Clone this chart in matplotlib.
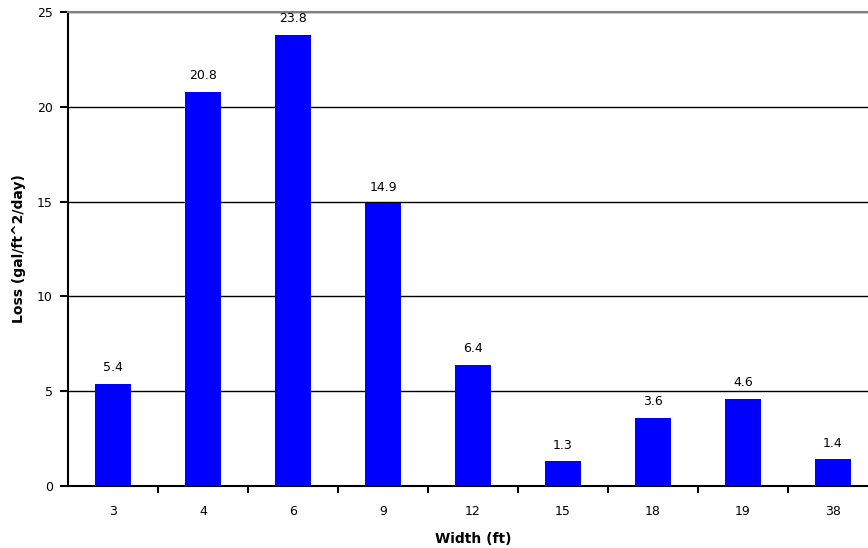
import matplotlib.pyplot as plt
from matplotlib.ticker import FixedLocator

plt.rcParams["font.family"] = ["DejaVu Sans"]

# Loss by channel width
widths = ["3", "4", "6", "9", "12", "15", "18", "19", "38"]
losses = [5.4, 20.8, 23.8, 14.9, 6.4, 1.3, 3.6, 4.6, 1.4]
y_ticks = [0, 5, 10, 15, 20, 25]

BAR_COLOR = "#0000FF"

fig = plt.figure(figsize=(8.68, 5.48), dpi=100)
ax = fig.add_axes([68 / 868, 62 / 548, 810 / 868, 474 / 548])

x = range(len(widths))
ax.bar(x, losses, width=0.4, color=BAR_COLOR, zorder=3)

for xi, val in zip(x, losses):
    ax.annotate(f"{val:.1f}", (xi, val), xytext=(0, 7), textcoords="offset points",
                ha="center", va="bottom", fontsize=9)

ax.set_xlim(-0.5, len(widths) - 0.5)
ax.set_ylim(0, 25)
ax.set_yticks(y_ticks)
ax.yaxis.grid(True, color="black", linewidth=1, zorder=0)

ax.set_xticks(list(x))
ax.set_xticklabels(widths, fontsize=9)
ax.xaxis.set_minor_locator(FixedLocator([i + 0.5 for i in range(len(widths))]))
ax.tick_params(axis="x", which="major", length=0, pad=14)
ax.tick_params(axis="x", which="minor", length=5, width=1.5, direction="out")
ax.tick_params(axis="y", length=6, width=1.5, direction="out", labelsize=9, pad=5)

ax.spines["top"].set_color("#808080")
ax.spines["top"].set_linewidth(1.5)
ax.spines["right"].set_visible(False)
ax.spines["left"].set_linewidth(1.5)
ax.spines["bottom"].set_linewidth(1.5)

ax.set_xlabel("Width (ft)", fontsize=10, fontweight="bold", labelpad=10)
ax.set_ylabel("Loss (gal/ft^2/day)", fontsize=10, fontweight="bold", labelpad=8)

fig.savefig("out.png", dpi=100)
